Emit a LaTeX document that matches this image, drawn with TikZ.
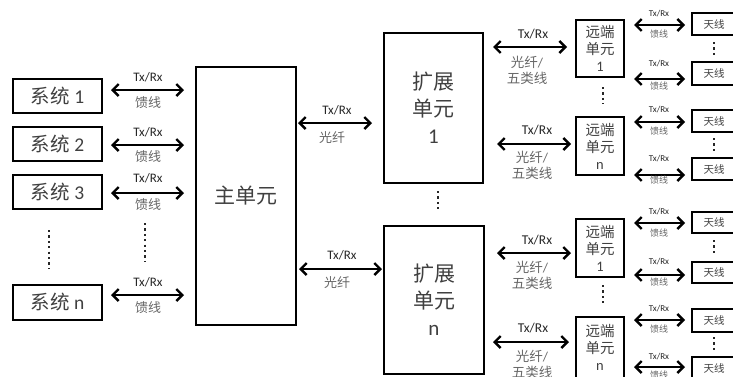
\documentclass[tikz,border=0pt]{standalone}
\usepackage{fontspec}
\setmainfont{Carlito}
\newfontfamily\cjk{Noto Sans CJK SC}
\usetikzlibrary{arrows.meta}
\definecolor{txt}{HTML}{404040}
\definecolor{lbl}{HTML}{666666}
\definecolor{tx}{HTML}{262626}
\tikzset{
  box/.style={draw=black, line width=2pt, inner sep=0pt, align=center, text=txt},
  arr/.style={line width=2.4pt, {Straight Barb[length=6pt,width=12pt]}-{Straight Barb[length=6pt,width=12pt]}},
  dotcol/.style={line width=2.2pt, dash pattern=on 2.2pt off 3.2pt, draw=black!85},
  txl/.style={text=tx, inner sep=0pt, font=\fontsize{13}{13}\selectfont},
  fdl/.style={text=lbl, inner sep=0pt, font=\fontsize{13}{13}\selectfont\cjk},
  fdl2/.style={text=lbl, inner sep=0pt, align=center, font=\fontsize{13.5}{16}\selectfont},
  atx/.style={text=tx, inner sep=0pt, font=\fontsize{9}{9}\selectfont},
  afd/.style={text=lbl, inner sep=0pt, font=\fontsize{9}{9}\selectfont\cjk},
  ant/.style={box, minimum width=44pt, font=\fontsize{10.5}{10.5}\selectfont\cjk},
  rem/.style={box, minimum width=48pt, font=\fontsize{14.5}{17}\selectfont},
  exb/.style={box, font=\fontsize{21}{27}\selectfont},
  sys/.style={box, minimum width=89pt, font=\fontsize{19.5}{19.5}\selectfont},
}
\begin{document}
\begin{tikzpicture}[x=1pt,y=-1pt]
\useasboundingbox (0,0) rectangle (733,376);
% systems
\node[sys, minimum height=34pt] (s1) at (57.5,96) {{\cjk 系统} 1};
\node[sys, minimum height=34pt] (s2) at (57.5,144) {{\cjk 系统} 2};
\node[sys, minimum height=34pt] (s3) at (57.5,192) {{\cjk 系统} 3};
\node[sys, minimum height=35pt] (sn) at (57.5,302.5) {{\cjk 系统} n};
% main unit
\node[box, minimum width=100pt, minimum height=258pt, font=\fontsize{21}{21}\selectfont\cjk] (m) at (246,196) {主单元};
% expansion units
\node[exb, minimum width=99pt, minimum height=150pt] (e1) at (433.5,108) {{\cjk 扩展}\\{\cjk 单元}\\1};
\node[exb, minimum width=100pt, minimum height=148pt] (en) at (434,300) {{\cjk 扩展}\\{\cjk 单元}\\n};
% remote units
\node[rem, minimum height=57pt] (r1) at (600,48.5) {{\cjk 远端}\\{\cjk 单元}\\1};
\node[rem, minimum height=58pt] (rn) at (600,146) {{\cjk 远端}\\{\cjk 单元}\\n};
\node[rem, minimum height=58pt] (r1b) at (600,248) {{\cjk 远端}\\{\cjk 单元}\\1};
\node[rem, minimum height=61pt] (rnb) at (600,347.5) {{\cjk 远端}\\{\cjk 单元}\\n};
% antennas
\node[ant, minimum height=22pt] (a1) at (714,24) {天线};
\node[ant, minimum height=23pt] (a2) at (714,73.5) {天线};
\node[ant, minimum height=22pt] (a3) at (714,121) {天线};
\node[ant, minimum height=22pt] (a4) at (714,169) {天线};
\node[ant, minimum height=21pt] (a5) at (714,222.5) {天线};
\node[ant, minimum height=21pt] (a6) at (714,272.5) {天线};
\node[ant, minimum height=23pt] (a7) at (714,320.5) {天线};
\node[ant, minimum height=23pt] (a8) at (714,368.5) {天线};

% system -> main arrows
\draw[arr, shorten <=8pt, shorten >=11pt] (s1.east |- 0,90) -- (m.west |- 0,90);
\draw[arr, shorten <=8pt, shorten >=11pt] (s2.east |- 0,145) -- (m.west |- 0,145);
\draw[arr, shorten <=8pt, shorten >=11pt] (s3.east |- 0,193) -- (m.west |- 0,193);
\draw[arr, shorten <=8pt, shorten >=11pt] (sn.east |- 0,295) -- (m.west |- 0,295);
\node[txl] (l1a) at (148,77) {Tx/Rx};  \node[fdl] (l1b) at (148,103) {馈线};
\node[txl] (l2a) at (148,132) {Tx/Rx}; \node[fdl] (l2b) at (148,157) {馈线};
\node[txl] (l3a) at (148,178) {Tx/Rx}; \node[fdl] (l3b) at (148,205) {馈线};
\node[txl] (l4a) at (148,282) {Tx/Rx}; \node[fdl] (l4b) at (148,308) {馈线};
\draw[dotcol] (49,230) -- (49,269);
\draw[dotcol] (145,223) -- (145,262);

% main -> expansion
\draw[arr, shorten <=1pt, shorten >=11pt] (m.east |- 0,123) -- (e1.west |- 0,123);
\draw[arr, shorten <=2pt, shorten >=1pt] (m.east |- 0,269) -- (en.west |- 0,269);
\node[txl] (m1a) at (337,110) {Tx/Rx}; \node[fdl] (m1b) at (332,138) {光纤};
\node[txl] (m2a) at (342,255) {Tx/Rx}; \node[fdl] (m2b) at (337,283) {光纤};
\draw[dotcol] (438,191) -- (438,211);

% expansion -> remote
\draw[arr, shorten <=9pt, shorten >=8pt] (e1.east |- 0,47) -- (r1.west |- 0,47);
\draw[arr, shorten <=13pt, shorten >=4pt] (e1.east |- 0,144) -- (rn.west |- 0,144);
\draw[arr, shorten <=12pt, shorten >=4pt] (en.east |- 0,253) -- (r1b.west |- 0,253);
\draw[arr, shorten <=8pt, shorten >=6pt] (en.east |- 0,342) -- (rnb.west |- 0,342);
\node[txl, font=\fontsize{13.5}{13.5}\selectfont] (x1a) at (533,34) {Tx/Rx};
\node[fdl2] (x1b) at (527,70) {{\cjk 光纤}/\\{\cjk 五类线}};
\node[txl, font=\fontsize{13.5}{13.5}\selectfont] (x2a) at (537,130) {Tx/Rx};
\node[fdl2] (x2b) at (532,165) {{\cjk 光纤}/\\{\cjk 五类线}};
\node[txl, font=\fontsize{13.5}{13.5}\selectfont] (x3a) at (537,240) {Tx/Rx};
\node[fdl2] (x3b) at (532,275) {{\cjk 光纤}/\\{\cjk 五类线}};
\node[txl, font=\fontsize{13.5}{13.5}\selectfont] (x4a) at (533,328) {Tx/Rx};
\node[fdl2] (x4b) at (532,364) {{\cjk 光纤}/\\{\cjk 五类线}};
\draw[dotcol] (603,87) -- (603,104);
\draw[dotcol] (603,285) -- (603,304);

% remote -> antenna
\draw[arr, shorten <=9pt, shorten >=6pt] (r1.east |- 0,25) -- (a1.west |- 0,25);
\draw[arr, shorten <=9pt, shorten >=6pt] (r1.east |- 0,79) -- (a2.west |- 0,79);
\draw[arr, shorten <=9pt, shorten >=6pt] (rn.east |- 0,122) -- (a3.west |- 0,122);
\draw[arr, shorten <=9pt, shorten >=6pt] (rn.east |- 0,175) -- (a4.west |- 0,175);
\draw[arr, shorten <=9pt, shorten >=6pt] (r1b.east |- 0,223) -- (a5.west |- 0,223);
\draw[arr, shorten <=9pt, shorten >=6pt] (r1b.east |- 0,275) -- (a6.west |- 0,275);
\draw[arr, shorten <=9pt, shorten >=6pt] (rnb.east |- 0,320) -- (a7.west |- 0,320);
\draw[arr, shorten <=9pt, shorten >=6pt] (rnb.east |- 0,367) -- (a8.west |- 0,367);
\node[atx] (b1a) at (659,14) {Tx/Rx};  \node[afd] (b1b) at (659,34) {馈线};
\node[atx] (b2a) at (659,64) {Tx/Rx};  \node[afd] (b2b) at (659,86) {馈线};
\node[atx] (b3a) at (659,110) {Tx/Rx}; \node[afd] (b3b) at (659,131) {馈线};
\node[atx] (b4a) at (659,159) {Tx/Rx}; \node[afd] (b4b) at (659,180) {馈线};
\node[atx] (b5a) at (659,212) {Tx/Rx}; \node[afd] (b5b) at (659,233) {馈线};
\node[atx] (b6a) at (659,262) {Tx/Rx}; \node[afd] (b6b) at (659,282) {馈线};
\node[atx] (b7a) at (659,309) {Tx/Rx}; \node[afd] (b7b) at (659,329) {馈线};
\node[atx] (b8a) at (659,357) {Tx/Rx}; \node[afd] (b8b) at (659,375) {馈线};
\draw[dotcol] (714,42) -- (714,57);
\draw[dotcol] (714,138) -- (714,153);
\draw[dotcol] (714,240) -- (714,255);
\draw[dotcol] (714,337) -- (714,352);
\end{tikzpicture}
\end{document}
